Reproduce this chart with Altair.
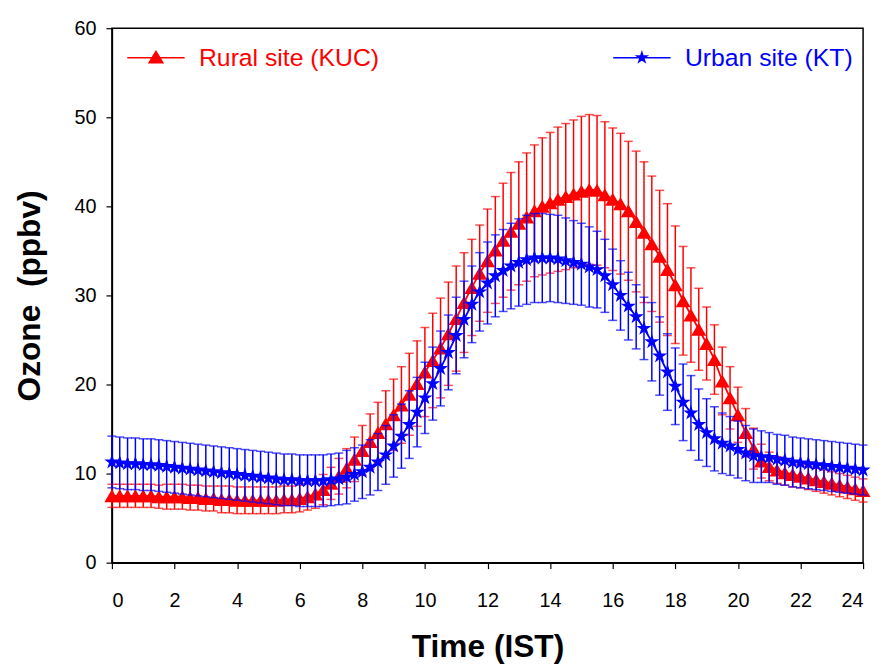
import altair as alt
import pandas as pd

# Time of day (hours, IST), 15-minute steps
time_h = [0.0, 0.25, 0.5, 0.75, 1.0, 1.25, 1.5, 1.75, 2.0, 2.25, 2.5, 2.75,
          3.0, 3.25, 3.5, 3.75, 4.0, 4.25, 4.5, 4.75, 5.0, 5.25, 5.5, 5.75,
          6.0, 6.25, 6.5, 6.75, 7.0, 7.25, 7.5, 7.75, 8.0, 8.25, 8.5, 8.75,
          9.0, 9.25, 9.5, 9.75, 10.0, 10.25, 10.5, 10.75, 11.0, 11.25, 11.5, 11.75,
          12.0, 12.25, 12.5, 12.75, 13.0, 13.25, 13.5, 13.75, 14.0, 14.25, 14.5, 14.75,
          15.0, 15.25, 15.5, 15.75, 16.0, 16.25, 16.5, 16.75, 17.0, 17.25, 17.5, 17.75,
          18.0, 18.25, 18.5, 18.75, 19.0, 19.25, 19.5, 19.75, 20.0, 20.25, 20.5, 20.75,
          21.0, 21.25, 21.5, 21.75, 22.0, 22.25, 22.5, 22.75, 23.0, 23.25, 23.5, 23.75,
          24.0]

rural_mean = [7.5, 7.5, 7.5, 7.5, 7.5, 7.5, 7.4, 7.4, 7.4, 7.4, 7.3, 7.3,
              7.2, 7.2, 7.1, 7.1, 7.0, 7.0, 7.0, 7.0, 7.0, 7.0, 7.1, 7.1,
              7.2, 7.4, 7.7, 8.2, 8.9, 9.7, 10.6, 11.6, 12.6, 13.6, 14.6, 15.6,
              16.6, 17.7, 18.9, 20.1, 21.4, 22.7, 24.1, 25.7, 27.4, 29.2, 30.9, 32.5,
              33.9, 35.1, 36.2, 37.2, 38.1, 38.8, 39.5, 40.0, 40.4, 40.8, 41.1, 41.4,
              41.7, 41.9, 41.8, 41.3, 40.8, 40.3, 39.5, 38.3, 37.1, 35.8, 34.4, 32.9,
              31.2, 29.4, 27.8, 26.2, 24.6, 22.8, 20.4, 18.5, 16.6, 14.6, 12.8, 11.4,
              10.8, 10.4, 10.1, 9.9, 9.7, 9.5, 9.3, 9.1, 8.9, 8.7, 8.5, 8.3,
              8.1]

rural_sd = [1.3, 1.3, 1.3, 1.3, 1.3, 1.3, 1.3, 1.4, 1.4, 1.4, 1.4, 1.4,
            1.4, 1.4, 1.5, 1.5, 1.5, 1.5, 1.5, 1.5, 1.5, 1.5, 1.5, 1.5,
            1.5, 1.5, 1.6, 1.7, 1.8, 2.0, 2.2, 2.5, 2.8, 3.1, 3.4, 3.7,
            4.0, 4.3, 4.6, 4.8, 5.0, 5.3, 5.6, 5.8, 5.9, 5.6, 5.4, 5.4,
            5.8, 6.0, 6.4, 6.6, 6.9, 7.2, 7.4, 7.7, 7.9, 8.1, 8.2, 8.3,
            8.4, 8.4, 8.4, 8.2, 8.0, 7.9, 7.8, 7.9, 7.9, 7.6, 7.4, 7.4,
            6.6, 6.1, 5.3, 4.6, 4.1, 3.9, 3.8, 3.5, 3.1, 2.7, 2.3, 1.9,
            1.6, 1.5, 1.4, 1.4, 1.3, 1.3, 1.3, 1.3, 1.3, 1.3, 1.3, 1.3,
            1.3]

urban_mean = [11.3, 11.2, 11.1, 11.1, 11.0, 11.0, 10.9, 10.8, 10.7, 10.6, 10.5, 10.4,
              10.3, 10.2, 10.1, 10.0, 9.9, 9.8, 9.7, 9.6, 9.5, 9.4, 9.3, 9.3,
              9.2, 9.2, 9.2, 9.2, 9.3, 9.4, 9.6, 9.9, 10.2, 10.7, 11.3, 12.1,
              13.1, 14.2, 15.5, 16.9, 18.5, 20.1, 21.8, 23.6, 25.5, 27.3, 29.0, 30.4,
              31.4, 32.2, 32.8, 33.3, 33.7, 34.0, 34.2, 34.2, 34.2, 34.1, 33.9, 33.7,
              33.5, 33.2, 32.9, 32.2, 31.2, 30.0, 28.8, 27.6, 26.3, 24.8, 23.2, 21.4,
              19.8, 18.0, 16.8, 15.5, 14.6, 13.9, 13.4, 13.1, 12.7, 12.3, 12.0, 11.9,
              11.8, 11.6, 11.5, 11.3, 11.2, 11.1, 11.0, 10.9, 10.8, 10.7, 10.6, 10.5,
              10.4]

urban_sd = [2.9, 2.9, 2.9, 2.9, 2.9, 2.9, 2.9, 2.9, 2.9, 2.9, 2.9, 2.9,
            2.9, 2.9, 2.9, 2.9, 2.9, 2.9, 2.9, 2.9, 2.9, 2.9, 2.9, 2.9,
            2.9, 2.9, 2.9, 2.9, 2.9, 2.9, 3.0, 3.0, 3.0, 3.1, 3.2, 3.3,
            3.5, 3.6, 3.8, 3.9, 4.0, 4.1, 4.2, 4.2, 4.3, 4.3, 4.3, 4.4,
            4.6, 4.6, 4.6, 4.8, 4.9, 5.0, 5.0, 5.0, 4.9, 4.9, 4.8, 4.7,
            4.6, 4.5, 4.3, 4.1, 4.0, 3.9, 3.8, 3.6, 3.5, 4.4, 4.4, 4.3,
            4.3, 4.3, 4.2, 4.0, 3.8, 3.6, 3.4, 3.3, 3.2, 3.1, 3.0, 2.9,
            2.8, 2.8, 2.8, 2.8, 2.8, 2.8, 2.8, 2.8, 2.8, 2.8, 2.8, 2.8,
            2.8]

sites = ["Rural site (KUC)", "Urban site (KT)"]
site_colors = ["#ff0000", "#0000ff"]

rows = []
for site, means, sds in [(sites[0], rural_mean, rural_sd), (sites[1], urban_mean, urban_sd)]:
    for t, m, s in zip(time_h, means, sds):
        rows.append({"site": site, "time": t, "mean": m, "lo": m - s, "hi": m + s})
df = pd.DataFrame(rows)

FONT = "Liberation Sans"
STAR = ("M0,-1L0.2245,-0.309L0.951,-0.309L0.363,0.118L0.588,0.809L0,0.382"
        "L-0.588,0.809L-0.363,0.118L-0.951,-0.309L-0.2245,-0.309Z")
LEG_TRI = "M-2.5,0H2.5M0,-0.55L0.6,0.45L-0.6,0.45Z"
LEG_STAR = ("M-2.5,0H2.5M0,-0.45L0.101,-0.139L0.428,-0.139L0.163,0.053L0.265,0.364"
            "L0,0.172L-0.265,0.364L-0.163,0.053L-0.428,-0.139L-0.101,-0.139Z")

xscale = alt.Scale(domain=[0, 24], nice=False, zero=False)
yscale = alt.Scale(domain=[0, 60], nice=False)

X = alt.X("time:Q", scale=xscale,
          axis=alt.Axis(title="Time (IST)", values=list(range(0, 25, 2)),
                        labelPadding=22, titleY=70, titleBaseline="top"))
Y_AX = alt.Axis(title="Ozone\u00a0 (ppbv)", values=list(range(0, 61, 10)),
                labelPadding=10, titleX=-83, titleY=270, titleBaseline="middle")


def site_layers(site, colour, shape, size):
    base = alt.Chart(df).transform_filter(alt.datum.site == site)
    rule = base.mark_rule(strokeWidth=1.5, color=colour).encode(
        x=X, y=alt.Y("lo:Q", scale=yscale, axis=Y_AX), y2="hi:Q")
    cap_hi = base.mark_tick(orient="horizontal", size=9, thickness=1.5, color=colour).encode(
        x=X, y=alt.Y("hi:Q", scale=yscale, axis=Y_AX))
    cap_lo = base.mark_tick(orient="horizontal", size=9, thickness=1.5, color=colour).encode(
        x=X, y=alt.Y("lo:Q", scale=yscale, axis=Y_AX))
    line = base.mark_line(strokeWidth=1.8, color=colour).encode(
        x=X, y=alt.Y("mean:Q", scale=yscale, axis=Y_AX))
    pts = base.mark_point(filled=True, shape=shape, size=size, opacity=1, color=colour).encode(
        x=X, y=alt.Y("mean:Q", scale=yscale, axis=Y_AX))
    return [rule, cap_hi, cap_lo, line, pts]


legend_layer = alt.Chart(df).mark_point(size=0, filled=True, opacity=1).encode(
    x=X,
    y=alt.Y("mean:Q", scale=yscale, axis=Y_AX),
    fill=alt.Fill("site:N", scale=alt.Scale(domain=sites, range=site_colors), legend=alt.Legend(
        title=None, orient="none", legendX=32, legendY=17, direction="horizontal",
        columnPadding=233, symbolSize=538, symbolStrokeWidth=1.5, symbolOpacity=1,
        labelOffset=31, labelFontSize=25, labelFont=FONT, padding=0, labelLimit=0,
        labelColor=alt.ExprRef(expr="datum.value == 'Rural site (KUC)' ? '#ff0000' : '#0000ff'"))),
    stroke=alt.Stroke("site:N", scale=alt.Scale(domain=sites, range=site_colors)),
    shape=alt.Shape("site:N", scale=alt.Scale(domain=sites, range=[LEG_TRI, LEG_STAR])),
)

layers = (site_layers(sites[0], site_colors[0], "triangle-up", 230)
          + site_layers(sites[1], site_colors[1], STAR, 260) + [legend_layer])

chart = alt.layer(*layers).properties(
    width=759, height=540,
    autosize=alt.AutoSizeParams(type="none"),
    padding={"left": 105, "top": 17, "right": 8, "bottom": 100},
).configure_view(
    stroke="black", strokeWidth=1.5
).configure_axis(
    grid=False, labelFont=FONT, labelFontSize=20, labelColor="black",
    titleFont=FONT, titleFontSize=32, titleFontWeight="bold", titleColor="black",
    tickColor="black", tickSize=6, tickWidth=1.2, domainColor="black", domainWidth=1.5,
)

chart.save("out.html", embed_options={"renderer": "svg", "actions": False})
